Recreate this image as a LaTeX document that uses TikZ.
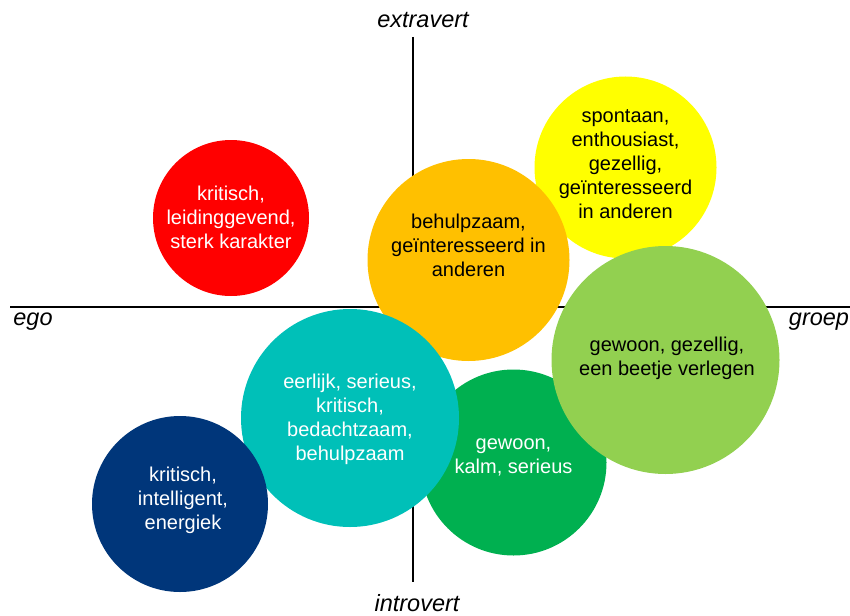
\documentclass[tikz,border=0pt]{standalone}
\usepackage{fontspec}
\setmainfont{Liberation Sans}
\definecolor{cRed}{RGB}{255,0,0}
\definecolor{cYellow}{RGB}{255,255,0}
\definecolor{cOrange}{RGB}{255,192,0}
\definecolor{cLight}{RGB}{146,208,80}
\definecolor{cGreen}{RGB}{0,176,80}
\definecolor{cTeal}{RGB}{0,192,184}
\definecolor{cNavy}{RGB}{0,54,122}
\tikzset{
  blob/.style={circle, inner sep=0pt, draw=none},
  txt/.style={align=center, inner sep=0pt, font=\fontsize{20}{24}\selectfont},
  axlabel/.style={inner sep=0pt, font=\fontsize{23.5}{28}\selectfont\itshape},
  axis/.style={draw=black, line width=2pt}
}
\begin{document}
\begin{tikzpicture}[x=1pt, y=-1pt]
\useasboundingbox (0,0) rectangle (850,615);
% axes
\coordinate (vt) at (413,37);
\coordinate (vb) at (413,582);
\coordinate (hl) at (10,307);
\coordinate (hr) at (850,307);
\draw[axis] (vt) -- (vb);
\draw[axis] (hl) -- (hr);
\node[axlabel] (extra) at (423,20) {extravert};
\node[axlabel] (intro) at (417,603) {introvert};
\node[axlabel] (ego) at (33,322) {ego};
\node[axlabel] (groep) at (819,322) {groep};
% circles
\node[blob, fill=cYellow, minimum size=182pt] (yellow) at (625.5,167.5) {};
\node[txt, text=black] (yellowt) at (625.5,164) {spontaan,\\enthousiast,\\gezellig,\\geïnteresseerd\\in anderen};
\node[blob, fill=cOrange, minimum size=202pt] (orange) at (468.5,260) {};
\node[txt, text=black] (oranget) at (468.5,245) {behulpzaam,\\geïnteresseerd in\\anderen};
\node[blob, fill=cGreen, minimum size=186pt] (green) at (513.5,462.5) {};
\node[txt, text=white] (greent) at (513.5,457) {gewoon,\\kalm, serieus};
\node[blob, fill=cTeal, minimum size=218pt] (teal) at (350,418) {};
\node[txt, text=white] (tealt) at (350,419) {eerlijk, serieus,\\kritisch,\\bedachtzaam,\\behulpzaam};
\node[blob, fill=cNavy, minimum size=176pt] (navy) at (180,504) {};
\node[txt, text=white] (navyt) at (183,500) {kritisch,\\intelligent,\\energiek};
\node[blob, fill=cLight, minimum size=228pt] (light) at (665.5,360) {};
\node[txt, text=black] (lightt) at (667,358.5) {gewoon, gezellig,\\een beetje verlegen};
\node[blob, fill=cRed, minimum size=156pt] (red) at (231,218) {};
\node[txt, text=white] (redt) at (231,217) {kritisch,\\leidinggevend,\\sterk karakter};
\end{tikzpicture}
\end{document}
